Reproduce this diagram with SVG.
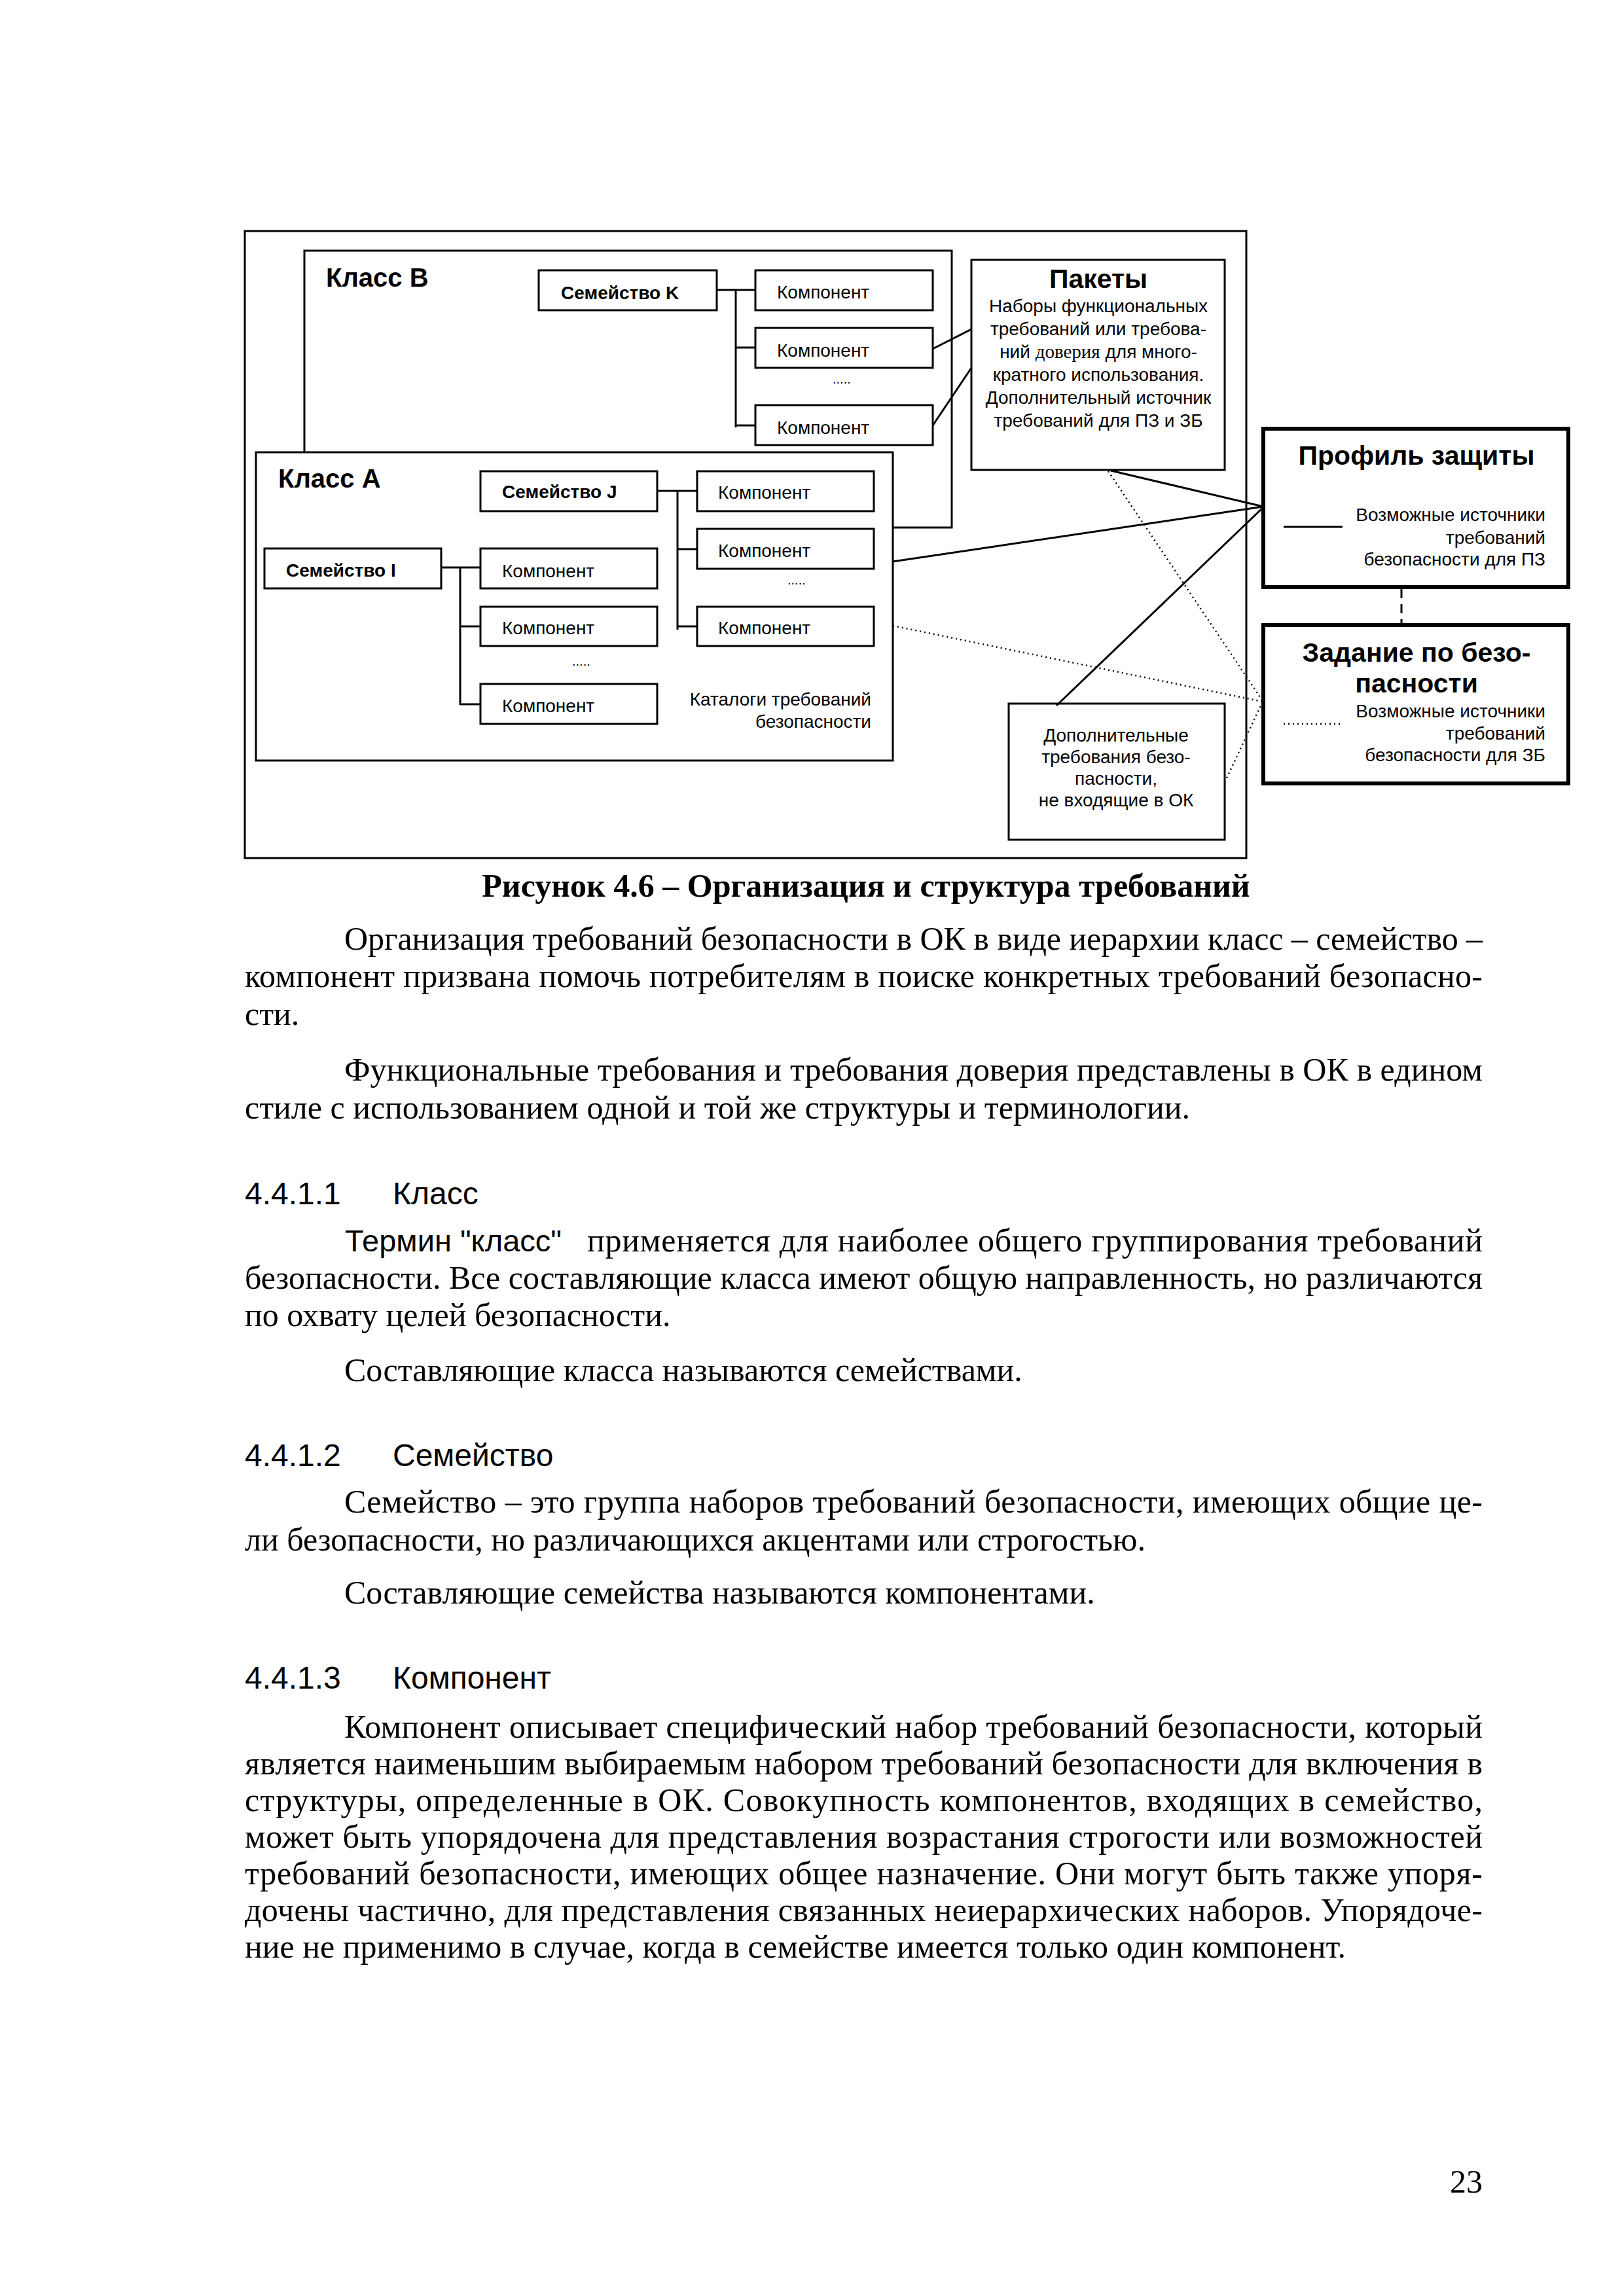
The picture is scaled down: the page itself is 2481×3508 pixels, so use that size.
<svg xmlns="http://www.w3.org/2000/svg" width="2481" height="3508" viewBox="0 0 2481 3508">
<style>
.bx{fill:#fff;stroke:#000;stroke-width:3}
.thick{fill:#fff;stroke:#000;stroke-width:6}
.ln{fill:none;stroke:#000;stroke-width:3}
.dot{fill:none;stroke:#000;stroke-width:2.5;stroke-dasharray:2 5}
.dash{fill:none;stroke:#000;stroke-width:3;stroke-dasharray:14 9}
.s{font-family:"Liberation Sans",Arial,sans-serif;fill:#000}
.b{font-weight:bold}
.f28{font-size:28px}
.f40{font-size:40px}
.f41{font-size:41px}
.serif{font-family:"Liberation Serif","Times New Roman",serif;font-size:50px;fill:#000}
.h{font-family:"Liberation Sans",Arial,sans-serif;font-size:48px;fill:#000}
.dots{font-family:"Liberation Sans",Arial,sans-serif;font-size:20px;fill:#000}
.mid{text-anchor:middle}
.end{text-anchor:end}
</style>
<rect width="2481" height="3508" fill="#fff"/>

<g id="frame">
<rect x="374" y="353" width="1530" height="958" class="ln"/>
</g>

<g id="classB">
<rect x="465" y="383" width="989" height="423" class="bx"/>
<text x="498" y="438" class="s b f40">Класс B</text>
</g>

<g id="famK">
<rect x="823" y="413" width="272" height="61" class="bx"/>
<text x="857" y="457" class="s b f28">Семейство K</text>
</g>
<g id="compK1"><rect x="1154" y="413" width="271" height="61" class="bx"/><text x="1187" y="456" class="s f28">Компонент</text></g>
<g id="compK2"><rect x="1154" y="501" width="271" height="61" class="bx"/><text x="1187" y="545" class="s f28">Компонент</text></g>
<text x="1272" y="586" class="dots">.....</text>
<g id="compK3"><rect x="1154" y="619" width="271" height="61" class="bx"/><text x="1187" y="663" class="s f28">Компонент</text></g>

<g id="classA">
<rect x="391" y="691" width="973" height="471" class="bx"/>
<text x="425" y="745" class="s b f40">Класс A</text>
<text x="1331" y="1078" class="s f28 end">Каталоги требований</text>
<text x="1331" y="1112" class="s f28 end">безопасности</text>
</g>

<g id="famJ">
<rect x="734" y="720" width="270" height="61" class="bx"/>
<text x="767" y="761" class="s b f28">Семейство J</text>
</g>
<g id="compJ1"><rect x="1065" y="720" width="270" height="61" class="bx"/><text x="1097" y="762" class="s f28">Компонент</text></g>
<g id="compJ2"><rect x="1065" y="808" width="270" height="61" class="bx"/><text x="1097" y="851" class="s f28">Компонент</text></g>
<text x="1203" y="893" class="dots">.....</text>
<g id="compJ3"><rect x="1065" y="927" width="270" height="60" class="bx"/><text x="1097" y="969" class="s f28">Компонент</text></g>

<g id="famI">
<rect x="404" y="838" width="270" height="61" class="bx"/>
<text x="437" y="881" class="s b f28">Семейство I</text>
</g>
<g id="compI1"><rect x="734" y="838" width="270" height="61" class="bx"/><text x="767" y="882" class="s f28">Компонент</text></g>
<g id="compI2"><rect x="734" y="927" width="270" height="60" class="bx"/><text x="767" y="969" class="s f28">Компонент</text></g>
<text x="874" y="1017" class="dots">.....</text>
<g id="compI3"><rect x="734" y="1045" width="270" height="61" class="bx"/><text x="767" y="1088" class="s f28">Компонент</text></g>

<g id="packages">
<rect x="1484" y="397" width="387" height="321" class="bx"/>
<text x="1678" y="440" class="s b f41 mid">Пакеты</text>
<text x="1678" y="477" class="s f28 mid">Наборы функциональных</text>
<text x="1678" y="512" class="s f28 mid">требований или требова-</text>
<text x="1678" y="547" class="s f28 mid">ний <tspan font-family="Liberation Serif, serif" font-size="29">доверия</tspan> для много-</text>
<text x="1678" y="582" class="s f28 mid">кратного использования.</text>
<text x="1678" y="617" class="s f28 mid">Дополнительный источник</text>
<text x="1678" y="652" class="s f28 mid">требований для ПЗ и ЗБ</text>
</g>

<g id="extra">
<rect x="1541" y="1075" width="330" height="208" class="bx"/>
<text x="1705" y="1133" class="s f28 mid">Дополнительные</text>
<text x="1705" y="1166" class="s f28 mid">требования безо-</text>
<text x="1705" y="1199" class="s f28 mid">пасности,</text>
<text x="1705" y="1232" class="s f28 mid">не входящие в ОК</text>
</g>

<g id="pp">
<rect x="1930" y="655" width="466" height="242" class="thick"/>
<text x="2164" y="710" class="s b f41 mid">Профиль защиты</text>
<line x1="1961" y1="805" x2="2051" y2="805" class="ln"/>
<text x="2361" y="796" class="s f28 end">Возможные источники</text>
<text x="2361" y="831" class="s f28 end">требований</text>
<text x="2361" y="864" class="s f28 end">безопасности для ПЗ</text>
</g>

<g id="st">
<rect x="1930" y="955" width="466" height="242" class="thick"/>
<text x="2164" y="1011" class="s b f41 mid">Задание по безо-</text>
<text x="2164" y="1058" class="s b f41 mid">пасности</text>
<line x1="1961" y1="1106" x2="2050" y2="1106" class="dot"/>
<text x="2361" y="1096" class="s f28 end">Возможные источники</text>
<text x="2361" y="1130" class="s f28 end">требований</text>
<text x="2361" y="1163" class="s f28 end">безопасности для ЗБ</text>
</g>

<g id="connectors">
<polyline points="1095,443 1154,443" class="ln"/>
<polyline points="1124,443 1124,653" class="ln"/>
<polyline points="1124,531 1154,531" class="ln"/>
<polyline points="1124,650 1154,650" class="ln"/>
<polyline points="1004,750 1065,750" class="ln"/>
<polyline points="1035,750 1035,962" class="ln"/>
<polyline points="1035,839 1065,839" class="ln"/>
<polyline points="1035,957 1065,957" class="ln"/>
<polyline points="674,867 734,867" class="ln"/>
<polyline points="703,867 703,1077" class="ln"/>
<polyline points="703,957 734,957" class="ln"/>
<polyline points="703,1076 734,1076" class="ln"/>
<line x1="1425" y1="533" x2="1484" y2="503" class="ln"/>
<line x1="1425" y1="650" x2="1484" y2="562" class="ln"/>
<line x1="1364" y1="858" x2="1930" y2="774" class="ln"/>
<line x1="1697" y1="719" x2="1930" y2="774" class="ln"/>
<line x1="1614" y1="1078" x2="1930" y2="775" class="ln"/>
<line x1="1693" y1="720" x2="1929" y2="1071" class="dot"/>
<line x1="1364" y1="956" x2="1929" y2="1072" class="dot"/>
<line x1="1871" y1="1195" x2="1929" y2="1072" class="dot"/>
<line x1="2141" y1="900" x2="2141" y2="952" class="dash"/>
</g>

<g id="text">
<text x="1323" y="1370" class="serif b mid">Рисунок 4.6 – Организация и структура требований</text>
<text x="526" y="1451" class="serif" textLength="1739" lengthAdjust="spacing">Организация требований безопасности в ОК в виде иерархии класс – семейство –</text>
<text x="374" y="1508" class="serif" textLength="1891" lengthAdjust="spacing">компонент призвана помочь потребителям в поиске конкретных требований безопасно-</text>
<text x="374" y="1566" class="serif">сти.</text>
<text x="526" y="1651" class="serif" textLength="1739" lengthAdjust="spacing">Функциональные требования и требования доверия представлены в ОК в едином</text>
<text x="374" y="1709" class="serif">стиле с использованием одной и той же структуры и терминологии.</text>
<text x="374" y="1840" class="h">4.4.1.1</text>
<text x="600" y="1840" class="h">Класс</text>
<text x="527" y="1912" class="s" font-size="47">Термин "класс"</text>
<text x="897" y="1912" class="serif" textLength="1368" lengthAdjust="spacing">применяется для наиболее общего группирования требований</text>
<text x="374" y="1969" class="serif" textLength="1891" lengthAdjust="spacing">безопасности. Все составляющие класса имеют общую направленность, но различаются</text>
<text x="374" y="2026" class="serif">по охвату целей безопасности.</text>
<text x="526" y="2110" class="serif">Составляющие класса называются семействами.</text>
<text x="374" y="2240" class="h">4.4.1.2</text>
<text x="600" y="2240" class="h">Семейство</text>
<text x="526" y="2311" class="serif" textLength="1739" lengthAdjust="spacing">Семейство – это группа наборов требований безопасности, имеющих общие це-</text>
<text x="374" y="2369" class="serif">ли безопасности, но различающихся акцентами или строгостью.</text>
<text x="526" y="2450" class="serif">Составляющие семейства называются компонентами.</text>
<text x="374" y="2580" class="h">4.4.1.3</text>
<text x="600" y="2580" class="h">Компонент</text>
<text x="526" y="2655" class="serif" textLength="1739" lengthAdjust="spacing">Компонент описывает специфический набор требований безопасности, который</text>
<text x="374" y="2711" class="serif" textLength="1891" lengthAdjust="spacing">является наименьшим выбираемым набором требований безопасности для включения в</text>
<text x="374" y="2767" class="serif" textLength="1891" lengthAdjust="spacing">структуры, определенные в ОК. Совокупность компонентов, входящих в семейство,</text>
<text x="374" y="2823" class="serif" textLength="1891" lengthAdjust="spacing">может быть упорядочена для представления возрастания строгости или возможностей</text>
<text x="374" y="2879" class="serif" textLength="1891" lengthAdjust="spacing">требований безопасности, имеющих общее назначение. Они могут быть также упоря-</text>
<text x="374" y="2935" class="serif" textLength="1891" lengthAdjust="spacing">дочены частично, для представления связанных неиерархических наборов. Упорядоче-</text>
<text x="374" y="2991" class="serif">ние не применимо в случае, когда в семействе имеется только один компонент.</text>
<text x="2265" y="3350" class="serif end">23</text>
</g>
</svg>
